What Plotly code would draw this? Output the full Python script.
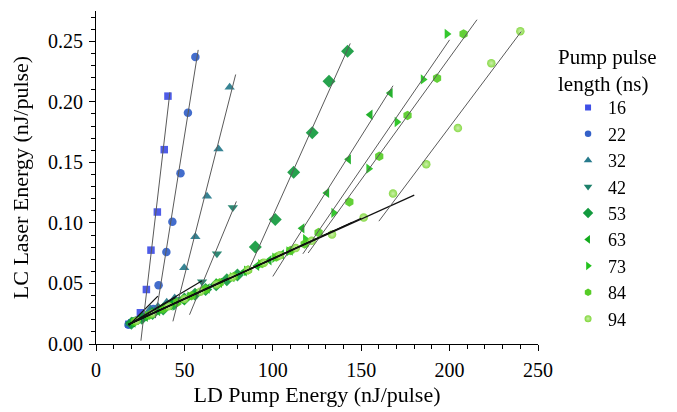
import numpy as np
import plotly.graph_objects as go

# ---------------- data ----------------
pulse_lengths = ["16", "22", "32", "42", "53", "63", "73", "84", "94"]

x16 = [18.6, 20.2, 22.0, 25.1, 28.5, 31.1, 34.7, 38.6, 40.7]
y16 = [0.0163, 0.0175, 0.0190, 0.0258, 0.0450, 0.0775, 0.1090, 0.1605, 0.2047]

x22 = [18.4, 20.5, 23.0, 26.0, 29.5, 32.5, 35.4, 39.8, 43.2, 47.8, 52.0, 56.2]
y22 = [0.0160, 0.0178, 0.0195, 0.0215, 0.0240, 0.0290, 0.0486, 0.0760, 0.1010, 0.1410, 0.1910, 0.2370]

x32 = [19.0, 22.5, 26.5, 30.7, 35.0, 40.0, 44.5, 49.9, 56.2, 62.8, 69.3, 75.6]
y32 = [0.0165, 0.0190, 0.0215, 0.0290, 0.0310, 0.0345, 0.0380, 0.0630, 0.0885, 0.1220, 0.1610, 0.2120]

x42 = [19.5, 24.0, 29.0, 34.0, 39.0, 44.0, 49.0, 54.0, 60.0, 68.4, 77.4]
y42 = [0.0168, 0.0200, 0.0235, 0.0270, 0.0300, 0.0340, 0.0370, 0.0400, 0.0515, 0.0745, 0.1128]

x53 = [20.0, 26.0, 32.0, 38.0, 44.0, 50.0, 56.0, 62.0, 68.0, 74.0, 80.0,
       90.1, 101.4, 111.8, 122.3, 131.8, 142.3]
y53 = [0.0172, 0.0212, 0.0252, 0.0290, 0.0330, 0.0372, 0.0410, 0.0450, 0.0490, 0.0530, 0.0570,
       0.0802, 0.1028, 0.1418, 0.1745, 0.2170, 0.2418]

x63 = [21.0, 28.0, 35.0, 42.0, 49.0, 56.0, 63.0, 70.0, 77.0, 84.0, 91.0, 98.0, 105.0, 110.0,
       116.6, 130.6, 142.9, 155.1, 166.5]
y63 = [0.0178, 0.0225, 0.0272, 0.0318, 0.0365, 0.0412, 0.0458, 0.0505, 0.0552, 0.0600, 0.0645, 0.0692, 0.0740, 0.0772,
       0.0955, 0.1248, 0.1525, 0.1893, 0.2072]

x73 = [21.5, 29.0, 37.0, 45.0, 53.0, 61.0, 69.0, 77.0, 85.0, 93.0, 101.0, 109.0,
       118.4, 134.4, 154.2, 170.2, 185.0, 198.5]
y73 = [0.0182, 0.0232, 0.0285, 0.0340, 0.0392, 0.0445, 0.0500, 0.0552, 0.0605, 0.0660, 0.0712, 0.0765,
       0.0866, 0.1083, 0.1448, 0.1833, 0.2185, 0.2561]

x84 = [22.0, 30.0, 38.0, 46.0, 54.0, 62.0, 70.0, 78.0, 86.0, 94.0, 102.0, 110.0, 118.0,
       125.9, 143.3, 160.2, 176.2, 192.9, 207.9]
y84 = [0.0185, 0.0238, 0.0292, 0.0345, 0.0398, 0.0452, 0.0505, 0.0558, 0.0612, 0.0665, 0.0718, 0.0772, 0.0825,
       0.0920, 0.1173, 0.1550, 0.1888, 0.2195, 0.2561]

x94 = [23.0, 32.0, 41.0, 50.0, 59.0, 68.0, 77.0, 86.0, 95.0, 104.0, 113.0, 122.0, 133.5, 151.4,
       168.0, 186.8, 204.7, 223.6, 240.0]
y94 = [0.0192, 0.0252, 0.0312, 0.0372, 0.0432, 0.0492, 0.0552, 0.0612, 0.0672, 0.0732, 0.0792, 0.0852, 0.0904, 0.1045,
       0.1242, 0.1484, 0.1783, 0.2319, 0.2583]

# number of below-threshold points in each series
n_below = [4, 6, 7, 8, 11, 14, 12, 13, 14]
# x extents of the fitted lines
steep_x0 = [25.4, 33.6, 43.5, 52.9, 86.5, 100.0, 117.0, 120.0, 160.0]
steep_x1 = [41.8, 57.8, 79.0, 79.4, 143.8, 168.0, 200.0, 215.5, 240.5]
shallow_x0 = [18.5, 18.5, 18.5, 18.5, 18.5, 18.5, 18.5, 18.5, 18.5]
shallow_x1 = [35.0, 45.0, 60.0, 75.0, 110.0, 135.0, 145.0, 150.0, 180.0]

# ---------------- style ----------------
colors = ["#3f4fe6", "#3461c8", "#277a8c", "#1d806a", "#139a3e", "#12ab1c", "#22c21c", "#56cc26", "#7fd63a"]
symbols = ["square", "circle", "triangle-up", "triangle-down", "diamond",
           "triangle-left", "triangle-right", "hexagon", "circle"]
sizes = [7.5, 8.5, 9, 9, 10, 9, 9, 9.5, 8.5]
legend_sizes = [6, 6.5, 7.5, 7.5, 8, 7.5, 7.5, 7.5, 7]

xs = [x16, x22, x32, x42, x53, x63, x73, x84, x94]
ys = [y16, y22, y32, y42, y53, y63, y73, y84, y94]

FONT = "Liberation Serif, Times New Roman, serif"

fig = go.Figure()

for i, name in enumerate(pulse_lengths):
    marker = dict(color=colors[i], symbol=symbols[i], size=sizes[i], line=dict(width=0))
    if i == 8:
        marker["gradient"] = dict(type="radial", color="#c9f0a4")
    fig.add_trace(go.Scatter(
        x=xs[i], y=ys[i], mode="markers", name=name, marker=marker, opacity=0.92,
        showlegend=False,
    ))

# fitted lines (drawn over the markers)
for i in range(len(pulse_lengths)):
    x = np.array(xs[i])
    y = np.array(ys[i])
    k = n_below[i]
    p_lo = np.polyfit(x[:k], y[:k], 1)
    xl = np.array([shallow_x0[i], shallow_x1[i]])
    fig.add_trace(go.Scatter(x=xl, y=np.polyval(p_lo, xl), mode="lines",
                             line=dict(color="#111111", width=1.2), showlegend=False,
                             hoverinfo="skip"))
    p_hi = np.polyfit(x[k:], y[k:], 1)
    xh = np.array([steep_x0[i], steep_x1[i]])
    fig.add_trace(go.Scatter(x=xh, y=np.polyval(p_hi, xh), mode="lines",
                             line=dict(color="#5a5a5a", width=1), showlegend=False,
                             hoverinfo="skip"))

# legend entries (smaller symbols, as in the original legend)
for i, name in enumerate(pulse_lengths):
    marker = dict(color=colors[i], symbol=symbols[i], size=legend_sizes[i], line=dict(width=0))
    if i == 8:
        marker["gradient"] = dict(type="radial", color="#c9f0a4")
    fig.add_trace(go.Scatter(x=[None], y=[None], mode="markers", name=name, marker=marker,
                             showlegend=True))

axis_common = dict(
    showline=True, linecolor="black", linewidth=1.2, mirror=False,
    ticks="outside", ticklen=6, tickwidth=1.2, tickcolor="black",
    showgrid=False, zeroline=False,
    tickfont=dict(family=FONT, size=20, color="black"),
    minor=dict(ticks="outside", ticklen=3.5, tickwidth=1, tickcolor="black"),
)

fig.update_xaxes(range=[0, 250], tick0=0, dtick=50, ticklabelstandoff=2,
                 title=dict(text="LD Pump Energy (nJ/pulse)", font=dict(family=FONT, size=22, color="black"),
                            standoff=6),
                 **axis_common)
fig.update_yaxes(range=[0, 0.275], tick0=0, dtick=0.05, tickformat=".2f", ticklabelstandoff=2,
                 title=dict(text="LC Laser Energy (nJ/pulse)", font=dict(family=FONT, size=22, color="black"),
                            standoff=16),
                 **axis_common)

# the page has an 8px body margin, so the figure is 8px smaller than the window
fig.update_layout(
    width=669, height=404,
    margin=dict(l=88, r=139, t=3, b=68),
    paper_bgcolor="white", plot_bgcolor="white",
    font=dict(family=FONT, color="black"),
    showlegend=True,
    legend=dict(
        x=1.068, xanchor="left", y=0.765, yanchor="top",
        font=dict(family=FONT, size=18, color="black"),
        bgcolor="rgba(0,0,0,0)", borderwidth=0,
        itemsizing="trace",
    ),
    annotations=[dict(
        text="Pump pulse<br>length (ns)", xref="paper", yref="paper",
        x=1.04, y=0.905, xanchor="left", yanchor="top", align="left", showarrow=False,
        font=dict(family=FONT, size=21, color="black"),
    )],
)

fig.write_html("out.html")
